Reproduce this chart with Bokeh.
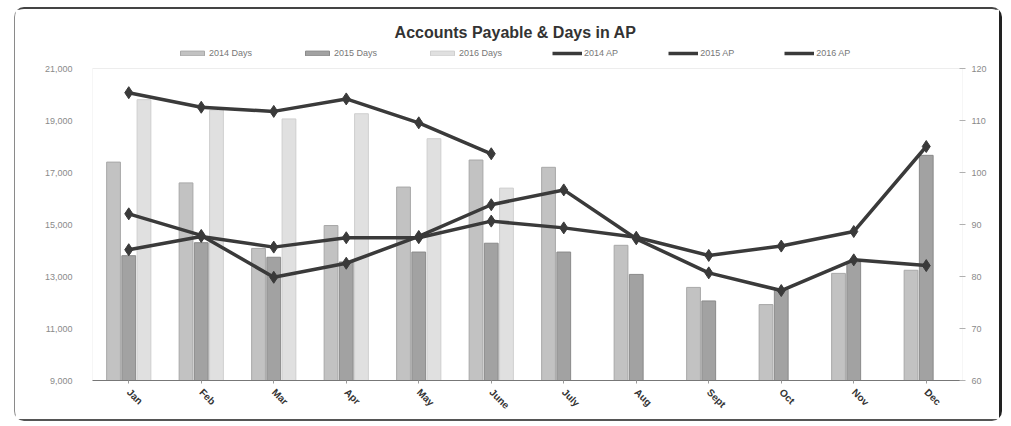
from bokeh.plotting import figure
from bokeh.layouts import column
from bokeh.models import (ColumnDataSource, Range1d, LinearAxis, FactorRange, FixedTicker,
                          NumeralTickFormatter, Legend, LegendItem, BoxAnnotation, Label)
from bokeh.transform import dodge
from bokeh.embed import file_html
from bokeh.resources import INLINE
import math

months = ["Jan", "Feb", "Mar", "Apr", "May", "June", "July", "Aug", "Sept", "Oct", "Nov", "Dec"]
days_2014 = [102, 98, 85.4, 89.8, 97.2, 102.4, 101, 86, 77.9, 74.6, 80.6, 81.2]
days_2015 = [84, 86.5, 83.7, 82.8, 84.7, 86.4, 84.7, 80.4, 75.3, 77.5, 82.8, 103.3]
days_2016 = [114, 112, 110.3, 111.3, 106.5, 97]
ap_2014 = [15410, 14580, 12970, 13510, 14540, 15760, 16330, 14450, 13140, 12460, 13640, 13420]
ap_2015 = [14030, 14540, 14130, 14490, 14490, 15130, 14870, 14510, 13810, 14170, 14730, 18000]
ap_2016 = [20070, 19510, 19350, 19830, 18910, 17720]
ap_ticks = [9000, 11000, 13000, 15000, 17000, 19000, 21000]
day_ticks = [60, 70, 80, 90, 100, 110, 120]

src = ColumnDataSource(dict(month=months, d14=days_2014, d15=days_2015, ap14=ap_2014, ap15=ap_2015))
src16 = ColumnDataSource(dict(month=months[:len(days_2016)], d16=days_2016, ap16=ap_2016))

FONT = "Liberation Sans"

# layout geometry (pixels)
W, H = 984, 410
B_LEFT, B_RIGHT, B_TOP, B_BOTTOM = 77, 37, 5, 39
FRAME_H = H - B_TOP - B_BOTTOM          # whole frame (plot area + header band)
PLOT_H = 312                            # height of the axis area inside the frame
ap_lo, ap_hi = ap_ticks[0], ap_ticks[-1]
d_lo, d_hi = day_ticks[0], day_ticks[-1]
ap_top = ap_lo + (ap_hi - ap_lo) * FRAME_H / PLOT_H
d_top = d_lo + (d_hi - d_lo) * FRAME_H / PLOT_H

p = figure(x_range=FactorRange(factors=months, range_padding=0), y_range=Range1d(ap_lo, ap_top),
           width=W, height=H, output_backend="svg", toolbar_location=None,
           min_border_left=B_LEFT, min_border_right=B_RIGHT, min_border_top=B_TOP,
           min_border_bottom=B_BOTTOM, background_fill_color="white", border_fill_color="white")
p.extra_y_ranges = {"days": Range1d(d_lo, d_top)}
p.title = None
p.xgrid.visible = False
p.ygrid.visible = False
p.outline_line_color = None

# plot-area outline
p.add_layout(BoxAnnotation(bottom=ap_lo, top=ap_hi, fill_alpha=0, line_color="#c4c4c4", line_width=1,
                           level="underlay"))

bw = 0.19
b14 = p.vbar(x=dodge("month", -0.21, range=p.x_range), top="d14", bottom=d_lo, width=bw, source=src,
             y_range_name="days", fill_color="#c2c2c2", line_color="#a8a8a8", line_width=1)
b15 = p.vbar(x=dodge("month", 0.0, range=p.x_range), top="d15", bottom=d_lo, width=bw, source=src,
             y_range_name="days", fill_color="#a2a2a2", line_color="#8a8a8a", line_width=1)
b16 = p.vbar(x=dodge("month", 0.21, range=p.x_range), top="d16", bottom=d_lo, width=bw, source=src16,
             y_range_name="days", fill_color="#e0e0e0", line_color="#cfcfcf", line_width=1)

LC = "#3a3a3a"
l14 = p.line("month", "ap14", source=src, line_width=3.5, line_color=LC)
m14 = p.scatter("month", "ap14", source=src, marker="diamond", size=12, fill_color=LC, line_color=LC)
l15 = p.line("month", "ap15", source=src, line_width=3.5, line_color=LC)
m15 = p.scatter("month", "ap15", source=src, marker="diamond", size=12, fill_color=LC, line_color=LC)
l16 = p.line("month", "ap16", source=src16, line_width=3.5, line_color=LC)
m16 = p.scatter("month", "ap16", source=src16, marker="diamond", size=12, fill_color=LC, line_color=LC)

# left axis (AP)
ya = p.yaxis[0]
ya.ticker = FixedTicker(ticks=ap_ticks)
ya.formatter = NumeralTickFormatter(format="0,0")
ya.axis_line_color = None
ya.major_tick_line_color = None
ya.minor_tick_line_color = None
ya.major_label_text_color = "#8a8a8a"
ya.major_label_text_font = FONT
ya.major_label_text_font_size = "9px"
ya.major_label_standoff = 14

# right axis (Days)
ra = LinearAxis(y_range_name="days", ticker=FixedTicker(ticks=day_ticks))
ra.axis_line_color = None
ra.major_tick_line_color = "#b0b0b0"
ra.major_tick_in = 3
ra.major_tick_out = 3
ra.minor_tick_line_color = None
ra.major_label_text_color = "#8a8a8a"
ra.major_label_text_font = FONT
ra.major_label_text_font_size = "9px"
ra.major_label_standoff = 6
p.add_layout(ra, "right")

xa = p.xaxis[0]
xa.axis_line_color = "#777777"
xa.major_tick_line_color = "#999999"
xa.major_tick_in = 0
xa.major_tick_out = 3
xa.major_label_orientation = -math.pi / 4
xa.major_label_text_font = FONT
xa.major_label_text_font_size = "10px"
xa.major_label_text_font_style = "bold"
xa.major_label_text_color = "#333333"
xa.major_label_standoff = 7

# title inside the header band of the frame
p.add_layout(Label(x=423, y=348, x_units="screen", y_units="screen",
                   text="Accounts Payable & Days in AP", text_align="center", text_baseline="middle",
                   text_font=FONT, text_font_size="16px", text_font_style="bold", text_color="#333333"))

legend = Legend(items=[
    LegendItem(label="2014 Days", renderers=[b14]),
    LegendItem(label="2015 Days", renderers=[b15]),
    LegendItem(label="2016 Days", renderers=[b16]),
    LegendItem(label="2014 AP", renderers=[l14, m14]),
    LegendItem(label="2015 AP", renderers=[l15, m15]),
    LegendItem(label="2016 AP", renderers=[l16]),
], orientation="horizontal", location=(83, 320))
legend.label_text_font = FONT
legend.label_text_font_size = "9px"
legend.label_text_color = "#777777"
legend.glyph_width = 30
legend.glyph_height = 6
legend.spacing = 50
legend.padding = 2
legend.margin = 0
legend.label_standoff = 2
legend.border_line_alpha = 0
legend.background_fill_alpha = 0
p.add_layout(legend)

layout = column(p, margin=(7, 0, 0, 14),
                styles={"border-top": "2px solid #444444", "border-right": "3px solid #222222",
                        "border-bottom": "2px solid #555555", "border-left": "1px solid #8a8a8a",
                        "border-radius": "10px"})

open("out.html", "w").write(file_html(layout, INLINE))
